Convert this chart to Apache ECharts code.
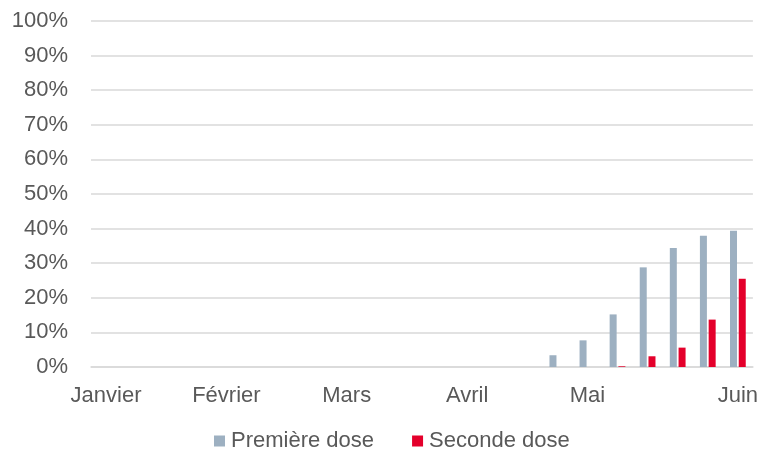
<!DOCTYPE html>
<html>
<head>
<meta charset="utf-8">
<script src="https://cdn.jsdelivr.net/npm/echarts@6/dist/echarts.min.js"></script>
<style>
    html, body { margin: 0; padding: 0; background: #fff; }
    #chart { width: 761px; height: 450px; }
</style>
</head>
<body>
<div id="chart"></div>
<script>
// weekly categories, Jan -> Jun
const weeks = ['S1','S2','S3','S4','S5','S6','S7','S8','S9','S10','S11',
    'S12','S13','S14','S15','S16','S17','S18','S19','S20','S21','S22']
// month label shown under some weeks
const monthTicks = { 0: 'Janvier', 4: 'Février', 8: 'Mars', 12: 'Avril', 16: 'Mai', 21: 'Juin' }

const premiereDose = [0,0,0,0,0,0,0,0,0,0,0,0,0,0,0, 3.4, 7.7, 15.2, 28.8, 34.4, 37.9, 39.4]
const secondeDose  = [0,0,0,0,0,0,0,0,0,0,0,0,0,0,0, 0, 0, 0.2, 3.1, 5.6, 13.7, 25.5]

const chart = echarts.init(document.getElementById('chart'))
const font = 'Liberation Sans, Arial, sans-serif'

const option = {
    animation: false,
    textStyle: { fontFamily: font },
    grid: { left: 91, right: 6, top: 21, bottom: 83 },
    legend: {
        top: 430,
        left: 214,
        padding: 0,
        itemWidth: 11,
        itemHeight: 11,
        itemGap: 38,
        icon: 'rect',
        textStyle: { fontSize: 22, color: '#595959', fontFamily: font, padding: [0, 0, 0, 1] },
        data: ['Première dose', 'Seconde dose']
    },
    xAxis: {
        type: 'category',
        data: weeks,
        axisLine: { lineStyle: { color: '#d9d9d9', width: 1.5 } },
        axisTick: { show: false },
        axisLabel: {
            interval: (i) => monthTicks[i] !== undefined,
            formatter: (v, i) => monthTicks[i] || '',
            fontSize: 22,
            color: '#595959',
            margin: 18,
            fontFamily: font
        }
    },
    yAxis: {
        type: 'value',
        min: 0,
        max: 100,
        interval: 10,
        axisLine: { show: false },
        axisTick: { show: false },
        axisLabel: {
            formatter: '{value}%',
            fontSize: 22,
            color: '#595959',
            margin: 23,
            fontFamily: font
        },
        splitLine: { lineStyle: { color: '#d9d9d9', width: 1.5 } }
    },
    series: [
        {
            name: 'Première dose',
            type: 'bar',
            data: premiereDose,
            barWidth: 7,
            barGap: '25%',
            itemStyle: { color: '#9db0c1' }
        },
        {
            name: 'Seconde dose',
            type: 'bar',
            data: secondeDose,
            barWidth: 7,
            itemStyle: { color: '#e4002b' }
        }
    ]
}

chart.setOption(option)
</script>
</body>
</html>
